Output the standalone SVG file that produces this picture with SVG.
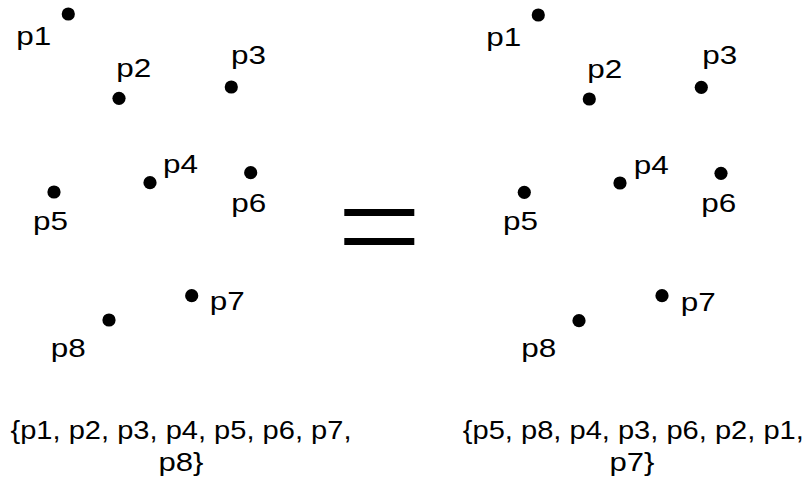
<svg xmlns="http://www.w3.org/2000/svg" width="807" height="483" viewBox="0 0 807 483">
<style>
text{font-family:"Liberation Sans",Arial,sans-serif;font-size:26px;fill:#000}
text.set{font-size:25px}
.dot{fill:#000}
.bar{fill:#000}
</style>
<rect width="807" height="483" fill="#fff"/>
<g id="connectors"></g>
<g id="left-set">
  <g id="L-p1"><circle class="dot" cx="68.3" cy="14" r="6.6"/><text x="16.3" y="45" textLength="35" lengthAdjust="spacingAndGlyphs">p1</text></g>
  <g id="L-p2"><circle class="dot" cx="119" cy="98.3" r="6.6"/><text x="116.3" y="77" textLength="35" lengthAdjust="spacingAndGlyphs">p2</text></g>
  <g id="L-p3"><circle class="dot" cx="231.3" cy="87" r="6.6"/><text x="231" y="64" textLength="35" lengthAdjust="spacingAndGlyphs">p3</text></g>
  <g id="L-p4"><circle class="dot" cx="150" cy="182.7" r="6.6"/><text x="163" y="173" textLength="35" lengthAdjust="spacingAndGlyphs">p4</text></g>
  <g id="L-p5"><circle class="dot" cx="54" cy="192" r="6.6"/><text x="33" y="230" textLength="35" lengthAdjust="spacingAndGlyphs">p5</text></g>
  <g id="L-p6"><circle class="dot" cx="250.7" cy="172.7" r="6.6"/><text x="231.3" y="212" textLength="35" lengthAdjust="spacingAndGlyphs">p6</text></g>
  <g id="L-p7"><circle class="dot" cx="191.7" cy="295.7" r="6.6"/><text x="209.7" y="310" textLength="35" lengthAdjust="spacingAndGlyphs">p7</text></g>
  <g id="L-p8"><circle class="dot" cx="109" cy="320" r="6.6"/><text x="50.7" y="357" textLength="35" lengthAdjust="spacingAndGlyphs">p8</text></g>
  <g id="L-order">
    <text class="set" x="181" y="439" text-anchor="middle" textLength="341" lengthAdjust="spacingAndGlyphs">{p1, p2, p3, p4, p5, p6, p7,</text>
    <text class="set" x="181" y="471" text-anchor="middle" textLength="45" lengthAdjust="spacingAndGlyphs">p8}</text>
  </g>
</g>
<g id="equals">
  <rect class="bar" x="344.3" y="209" width="70" height="7"/>
  <rect class="bar" x="344.3" y="238" width="70" height="7"/>
</g>
<g id="right-set">
  <g id="R-p1"><circle class="dot" cx="538.3" cy="15" r="6.6"/><text x="486.3" y="46" textLength="35" lengthAdjust="spacingAndGlyphs">p1</text></g>
  <g id="R-p2"><circle class="dot" cx="589.3" cy="99" r="6.6"/><text x="587.3" y="77.5" textLength="35" lengthAdjust="spacingAndGlyphs">p2</text></g>
  <g id="R-p3"><circle class="dot" cx="701.3" cy="87.3" r="6.6"/><text x="702.3" y="63.5" textLength="35" lengthAdjust="spacingAndGlyphs">p3</text></g>
  <g id="R-p4"><circle class="dot" cx="620" cy="183" r="6.6"/><text x="633.7" y="173.5" textLength="35" lengthAdjust="spacingAndGlyphs">p4</text></g>
  <g id="R-p5"><circle class="dot" cx="524.3" cy="192.3" r="6.6"/><text x="503" y="230" textLength="35" lengthAdjust="spacingAndGlyphs">p5</text></g>
  <g id="R-p6"><circle class="dot" cx="721" cy="173.3" r="6.6"/><text x="701.3" y="212.3" textLength="35" lengthAdjust="spacingAndGlyphs">p6</text></g>
  <g id="R-p7"><circle class="dot" cx="662" cy="295.7" r="6.6"/><text x="680.7" y="310.7" textLength="35" lengthAdjust="spacingAndGlyphs">p7</text></g>
  <g id="R-p8"><circle class="dot" cx="579" cy="320.7" r="6.6"/><text x="521.3" y="357" textLength="35" lengthAdjust="spacingAndGlyphs">p8</text></g>
  <g id="R-order">
    <text class="set" x="633.3" y="439" text-anchor="middle" textLength="341" lengthAdjust="spacingAndGlyphs">{p5, p8, p4, p3, p6, p2, p1,</text>
    <text class="set" x="632" y="471" text-anchor="middle" textLength="45" lengthAdjust="spacingAndGlyphs">p7}</text>
  </g>
</g>
</svg>
